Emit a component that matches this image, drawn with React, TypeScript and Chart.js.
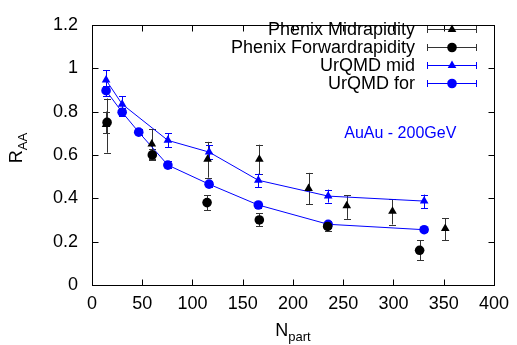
import React, { useEffect, useRef } from "react";
import { Chart, registerables } from "chart.js";

Chart.register(...registerables);

// ---------- data ----------
const X_TICKS = [0, 50, 100, 150, 200, 250, 300, 350, 400];
const Y_TICKS = [0, 0.2, 0.4, 0.6, 0.8, 1.0, 1.2];

const phenixMidX = [14, 59.5, 115, 166.5, 215.5, 253.5, 299, 351.5];
const phenixMidY = [0.74, 0.65, 0.58, 0.58, 0.445, 0.365, 0.34, 0.26];
const phenixMidLo = [0.7, 0.58, 0.495, 0.51, 0.373, 0.305, 0.279, 0.207];
const phenixMidHi = [0.8, 0.718, 0.66, 0.647, 0.517, 0.415, 0.395, 0.307];

const phenixForX = [15, 60, 114.5, 166.5, 234.5, 326];
const phenixForY = [0.75, 0.6, 0.38, 0.3, 0.27, 0.16];
const phenixForLo = [0.61, 0.575, 0.345, 0.27, 0.25, 0.115];
const phenixForHi = [0.86, 0.625, 0.415, 0.33, 0.29, 0.207];

const urqmdMidX = [14, 30, 75.5, 116.5, 165.5, 235, 330.5];
const urqmdMidY = [0.945, 0.834, 0.667, 0.613, 0.483, 0.41, 0.387];
const urqmdMidLo = [0.9, 0.8, 0.635, 0.58, 0.45, 0.38, 0.355];
const urqmdMidHi = [0.99, 0.871, 0.7, 0.645, 0.513, 0.44, 0.417];

const urqmdForX = [14, 30, 46.5, 75.5, 116.5, 165.5, 235, 330.5];
const urqmdForY = [0.896, 0.797, 0.705, 0.553, 0.465, 0.369, 0.28, 0.255];
const urqmdForLo = [0.87, 0.78, 0.69, 0.54, 0.45, 0.355, 0.265, 0.245];
const urqmdForHi = [0.92, 0.815, 0.72, 0.57, 0.48, 0.385, 0.295, 0.265];

const LEGEND_LABELS = [
  "Phenix Midrapidity",
  "Phenix Forwardrapidity",
  "UrQMD mid",
  "UrQMD for",
];
const ANNOTATION = "AuAu - 200GeV";

const FONT = "'Liberation Sans', Arial, Helvetica, sans-serif";
const BLACK = "#000000";
const BAR_BLACK = "#333333";
const BLUE = "#0000ff";

function pts(xs: number[], ys: number[]) {
  return xs.map((x, i) => ({ x, y: ys[i] }));
}

const errorData = [
  { xs: phenixMidX, lo: phenixMidLo, hi: phenixMidHi, color: BAR_BLACK },
  { xs: phenixForX, lo: phenixForLo, hi: phenixForHi, color: BAR_BLACK },
  { xs: urqmdMidX, lo: urqmdMidLo, hi: urqmdMidHi, color: BLUE },
  { xs: urqmdForX, lo: urqmdForLo, hi: urqmdForHi, color: BLUE },
];

function drawMarker(ctx: CanvasRenderingContext2D, style: string, x: number, y: number, r: number, color: string) {
  ctx.save();
  ctx.fillStyle = color;
  ctx.beginPath();
  if (style === "triangle") {
    let rad = (2 * Math.PI) / 3;
    ctx.moveTo(x + Math.sin(rad) * r, y - Math.cos(rad) * r);
    rad += (2 * Math.PI) / 3;
    ctx.lineTo(x + Math.sin(rad) * r, y - Math.cos(rad) * r);
    rad += (2 * Math.PI) / 3;
    ctx.lineTo(x + Math.sin(rad) * r, y - Math.cos(rad) * r);
    ctx.closePath();
  } else {
    ctx.arc(x, y, r, 0, Math.PI * 2);
  }
  ctx.fill();
  ctx.restore();
}

const overlayPlugin = {
  id: "overlay",
  beforeDatasetsDraw(chart: any) {
    const ctx: CanvasRenderingContext2D = chart.ctx;
    const xs = chart.scales.x;
    const ys = chart.scales.y;
    ctx.save();
    ctx.lineWidth = 1;
    const cap = 3.5;
    errorData.forEach((d) => {
      ctx.strokeStyle = d.color;
      d.xs.forEach((xv, i) => {
        const px = Math.round(xs.getPixelForValue(xv)) + 0.5;
        const pLo = ys.getPixelForValue(d.lo[i]);
        const pHi = ys.getPixelForValue(d.hi[i]);
        ctx.beginPath();
        ctx.moveTo(px, pLo);
        ctx.lineTo(px, pHi);
        ctx.moveTo(px - cap, Math.round(pLo) + 0.5);
        ctx.lineTo(px + cap, Math.round(pLo) + 0.5);
        ctx.moveTo(px - cap, Math.round(pHi) + 0.5);
        ctx.lineTo(px + cap, Math.round(pHi) + 0.5);
        ctx.stroke();
      });
    });
    ctx.restore();
  },
  afterDraw(chart: any) {
    const ctx: CanvasRenderingContext2D = chart.ctx;
    const a = chart.chartArea;
    const xs = chart.scales.x;
    const ys = chart.scales.y;
    ctx.save();
    // frame
    ctx.strokeStyle = BLACK;
    ctx.lineWidth = 1;
    const L = Math.round(a.left) + 0.5;
    const R = Math.round(a.right) + 0.5;
    const T = Math.round(a.top) + 0.5;
    const B = Math.round(a.bottom) + 0.5;
    ctx.strokeRect(L, T, R - L, B - T);
    // inward ticks
    const tl = 6;
    ctx.beginPath();
    X_TICKS.forEach((v) => {
      const px = Math.round(xs.getPixelForValue(v)) + 0.5;
      ctx.moveTo(px, B);
      ctx.lineTo(px, B - tl);
      ctx.moveTo(px, T);
      ctx.lineTo(px, T + tl);
    });
    Y_TICKS.forEach((v) => {
      const py = Math.round(ys.getPixelForValue(v)) + 0.5;
      ctx.moveTo(L, py);
      ctx.lineTo(L + tl, py);
      ctx.moveTo(R, py);
      ctx.lineTo(R - tl, py);
    });
    ctx.stroke();

    // legend
    const colors = [BLACK, BLACK, BLUE, BLUE];
    const lineColors = [BAR_BLACK, BAR_BLACK, BLUE, BLUE];
    const styles = ["triangle", "circle", "triangle", "circle"];
    const radii = [5, 4.8, 5, 4.8];
    ctx.font = `18px ${FONT}`;
    ctx.textAlign = "right";
    ctx.textBaseline = "middle";
    LEGEND_LABELS.forEach((lab, i) => {
      const y = 29 + i * 18;
      ctx.fillStyle = BLACK;
      ctx.fillText(lab, 415, y + 1);
      const yl = Math.round(y) + 0.5;
      ctx.strokeStyle = lineColors[i];
      ctx.beginPath();
      ctx.moveTo(427, yl);
      ctx.lineTo(477, yl);
      ctx.moveTo(427.5, yl - 3.5);
      ctx.lineTo(427.5, yl + 3.5);
      ctx.moveTo(476.5, yl - 3.5);
      ctx.lineTo(476.5, yl + 3.5);
      ctx.stroke();
      drawMarker(ctx, styles[i], 452, yl, radii[i], colors[i]);
    });

    // annotation
    ctx.font = `16px ${FONT}`;
    ctx.textAlign = "left";
    ctx.fillStyle = BLUE;
    ctx.fillText(ANNOTATION, xs.getPixelForValue(251), ys.getPixelForValue(0.7));

    // x-axis title N_part
    ctx.fillStyle = BLACK;
    ctx.textBaseline = "alphabetic";
    ctx.font = `18px ${FONT}`;
    const wN = ctx.measureText("N").width;
    ctx.font = `13px ${FONT}`;
    const wP = ctx.measureText("part").width;
    const cx = (a.left + a.right) / 2;
    let sx = cx - (wN + wP) / 2;
    ctx.font = `18px ${FONT}`;
    ctx.fillText("N", sx, 336);
    ctx.font = `13px ${FONT}`;
    ctx.fillText("part", sx + wN, 341);

    // y-axis title R_AA
    ctx.save();
    ctx.translate(16, 148);
    ctx.rotate(-Math.PI / 2);
    ctx.font = `18px ${FONT}`;
    const wR = ctx.measureText("R").width;
    ctx.font = `13px ${FONT}`;
    const wA = ctx.measureText("AA").width;
    sx = -(wR + wA) / 2;
    ctx.font = `18px ${FONT}`;
    ctx.fillText("R", sx, 6);
    ctx.font = `13px ${FONT}`;
    ctx.fillText("AA", sx + wR, 11);
    ctx.restore();

    ctx.restore();
  },
};

export default function App() {
  const ref = useRef<HTMLCanvasElement | null>(null);
  useEffect(() => {
    if (!ref.current) return;
    Chart.defaults.font.family = FONT;
    const chart = new Chart(ref.current, {
      type: "scatter",
      data: {
        datasets: [
          {
            label: LEGEND_LABELS[0],
            data: pts(phenixMidX, phenixMidY),
            pointStyle: "triangle",
            pointRadius: 5,
            backgroundColor: BLACK,
            borderColor: BLACK,
            borderWidth: 0,
            showLine: false,
          },
          {
            label: LEGEND_LABELS[1],
            data: pts(phenixForX, phenixForY),
            pointStyle: "circle",
            pointRadius: 4.8,
            backgroundColor: BLACK,
            borderColor: BLACK,
            borderWidth: 0,
            showLine: false,
          },
          {
            label: LEGEND_LABELS[2],
            data: pts(urqmdMidX, urqmdMidY),
            pointStyle: "triangle",
            pointRadius: 5,
            pointBorderWidth: 0,
            backgroundColor: BLUE,
            borderColor: BLUE,
            borderWidth: 1,
            showLine: true,
          },
          {
            label: LEGEND_LABELS[3],
            data: pts(urqmdForX, urqmdForY),
            pointStyle: "circle",
            pointRadius: 4.8,
            pointBorderWidth: 0,
            backgroundColor: BLUE,
            borderColor: BLUE,
            borderWidth: 1,
            showLine: true,
          },
        ],
      },
      options: {
        animation: false,
        responsive: true,
        maintainAspectRatio: false,
        layout: { padding: { left: 0, right: 19, top: 14, bottom: 0 } },
        plugins: {
          legend: { display: false },
          tooltip: { enabled: false },
          title: { display: false },
        },
        scales: {
          x: {
            type: "linear",
            min: 0,
            max: 400,
            afterFit: (s: any) => {
              s.height = 60;
            },
            afterBuildTicks: (s: any) => {
              s.ticks = X_TICKS.map((v) => ({ value: v }));
            },
            grid: { display: false, drawTicks: false },
            border: { display: false },
            ticks: {
              color: BLACK,
              font: { size: 18, family: FONT },
              padding: 8,
              maxRotation: 0,
              callback: (v: any) => String(v),
            },
          },
          y: {
            type: "linear",
            min: 0,
            max: 1.2,
            afterFit: (s: any) => {
              s.width = 92;
            },
            afterBuildTicks: (s: any) => {
              s.ticks = Y_TICKS.map((v) => ({ value: v }));
            },
            grid: { display: false, drawTicks: false },
            border: { display: false },
            ticks: {
              color: BLACK,
              font: { size: 18, family: FONT },
              padding: 14,
              callback: (v: any) => String(Number(Number(v).toFixed(1))),
            },
          },
        },
      },
      plugins: [overlayPlugin],
    });
    return () => chart.destroy();
  }, []);
  return (
    <div style={{ position: "absolute", left: 0, top: 0, width: 517, height: 345, background: "#fff" }}>
      <canvas ref={ref} />
    </div>
  );
}
